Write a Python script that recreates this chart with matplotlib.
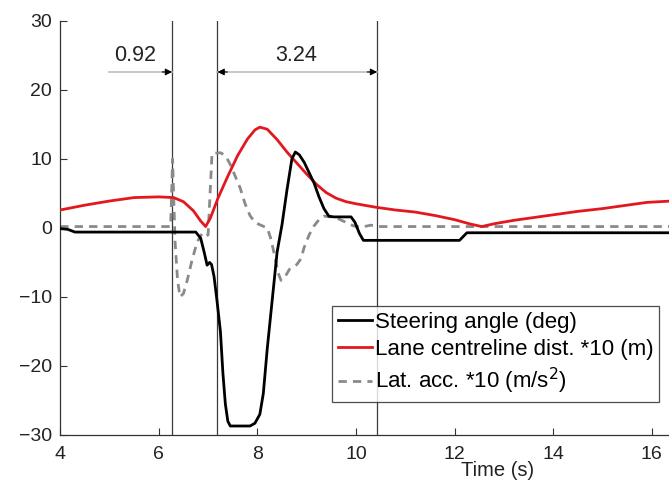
import numpy as np
import matplotlib
matplotlib.use("Agg")
import matplotlib.pyplot as plt

plt.rcParams["font.family"] = ["Liberation Sans", "DejaVu Sans"]

# ── data ──────────────────────────────────────────────────────────────────────
steer_t = [4.0, 4.15, 4.3, 6.75, 6.85, 6.92, 6.98, 7.03, 7.07, 7.12, 7.18, 7.25,
           7.3, 7.35, 7.4, 7.45, 7.85, 7.95, 8.05, 8.12, 8.2, 8.3, 8.4, 8.5, 8.6,
           8.7, 8.77, 8.85, 8.95, 9.05, 9.15, 9.25, 9.35, 9.45, 9.55, 9.9, 9.98,
           10.07, 10.15, 12.1, 12.25, 16.4]
steer_y = [-0.1, -0.2, -0.6, -0.6, -1.5, -3.5, -5.4, -5.0, -5.3, -7.0, -10.5, -15.0,
           -21.0, -25.5, -28.0, -28.7, -28.7, -28.3, -27.0, -24.0, -17.5, -10.5, -3.5,
           0.5, 5.5, 10.0, 11.0, 10.6, 9.5, 8.0, 6.5, 4.5, 2.8, 1.7, 1.6, 1.6, 0.8,
           -0.8, -1.8, -1.8, -0.7, -0.7]

lane_t = [4.0, 4.5, 5.0, 5.5, 6.0, 6.3, 6.5, 6.7, 6.85, 6.95, 7.05, 7.2, 7.4, 7.6,
          7.8, 7.95, 8.05, 8.2, 8.4, 8.6, 8.8, 9.0, 9.2, 9.4, 9.6, 9.8, 10.0, 10.4,
          10.8, 11.2, 11.6, 12.0, 12.3, 12.55, 12.8, 13.2, 13.6, 14.0, 14.5, 15.0,
          15.5, 15.9, 16.4]
lane_y = [2.6, 3.3, 3.9, 4.4, 4.5, 4.4, 3.8, 2.5, 1.0, 0.2, 1.5, 4.3, 7.5, 10.5,
          12.9, 14.2, 14.6, 14.3, 12.8, 11.0, 9.4, 7.8, 6.3, 5.1, 4.3, 3.8, 3.5, 3.0,
          2.6, 2.3, 1.8, 1.2, 0.6, 0.2, 0.6, 1.1, 1.5, 1.9, 2.4, 2.8, 3.3, 3.7, 3.9]

acc_t = [4.0, 6.24, 6.26, 6.28, 6.3, 6.33, 6.38, 6.43, 6.5, 6.58, 6.68, 6.78, 6.88,
         6.95, 7.0, 7.04, 7.08, 7.25, 7.35, 7.45, 7.55, 7.65, 7.75, 7.85, 7.95, 8.1,
         8.2, 8.27, 8.35, 8.42, 8.48, 8.55, 8.65, 8.8, 8.88, 8.95, 9.05, 9.15, 9.25,
         9.35, 9.5, 9.65, 9.8, 9.95, 10.1, 10.3, 10.5, 16.4]
acc_y = [0.2, 0.2, 5.0, 10.0, 5.0, -2.0, -7.5, -10.0, -9.5, -7.5, -4.5, -2.0, -0.8,
         -1.2, -1.0, 5.0, 10.8, 10.9, 10.5, 9.2, 7.5, 5.8, 3.5, 1.8, 0.8, 0.3, 0.0,
         -1.5, -4.0, -6.5, -7.6, -7.2, -6.0, -5.3, -4.5, -2.8, -1.0, 0.3, 1.2, 1.7,
         1.6, 1.3, 0.8, 0.3, 0.1, 0.4, 0.2, 0.2]

event_times = [6.27, 7.19, 10.43]
interval_labels = ["0.92", "3.24"]

labels = ["Steering angle (deg)", "Lane centreline dist. *10 (m)",
          "Lat. acc. *10 (m/s$^2$)"]

# ── plot ──────────────────────────────────────────────────────────────────────
fig = plt.figure(figsize=(6.69, 4.86), dpi=100)
ax = fig.add_axes([0.09, 0.105, 0.91, 0.852])

ax.plot(steer_t, steer_y, color="black", lw=2.0, label=labels[0], zorder=4)
ax.plot(lane_t, lane_y, color="#e3171e", lw=2.0, label=labels[1], zorder=3)
ax.plot(acc_t, acc_y, color="#8a8a8a", lw=2.0, ls=(0, (3, 2.2)), label=labels[2], zorder=2)

for t in event_times:
    ax.plot([t, t], [-30, 30], color="#3a3a3a", lw=0.9, zorder=1)

# interval arrows
arr_y = 22.6
ax.plot([event_times[0] - 1.29, event_times[0]], [arr_y, arr_y], color="#bdbdbd", lw=1.2)
ax.plot([event_times[1], event_times[2]], [arr_y, arr_y], color="#bdbdbd", lw=1.2)
head = dict(arrowstyle="-|>", color="black", lw=0.8, mutation_scale=10, shrinkA=0, shrinkB=0)
ax.annotate("", xy=(event_times[0], arr_y), xytext=(event_times[0] - 0.2, arr_y), arrowprops=head)
ax.annotate("", xy=(event_times[1], arr_y), xytext=(event_times[1] + 0.2, arr_y), arrowprops=head)
ax.annotate("", xy=(event_times[2], arr_y), xytext=(event_times[2] - 0.2, arr_y), arrowprops=head)
ax.text(5.52, 25.0, interval_labels[0], ha="center", va="center", fontsize=15.5, color="#222222")
ax.text(8.78, 25.0, interval_labels[1], ha="center", va="center", fontsize=15.5, color="#222222")

ax.set_xlim(4, 16.35)
ax.set_ylim(-30, 30)
ax.set_xticks(np.arange(4, 17, 2))
ax.set_yticks(np.arange(-30, 31, 10))
ax.tick_params(direction="in", length=5, width=0.8, labelsize=14, colors="#333333",
               labelcolor="#222222")
ax.tick_params(axis="x", pad=8)
ax.tick_params(axis="y", pad=6)
for s in ["top", "right"]:
    ax.spines[s].set_visible(False)
for s in ["left", "bottom"]:
    ax.spines[s].set_color("#333333")
    ax.spines[s].set_linewidth(0.9)
ax.set_xlabel("Time (s)", fontsize=14.5, color="#222222")
ax.xaxis.set_label_coords(0.718, -0.062)

leg = ax.legend(loc="lower left", bbox_to_anchor=(0.447, 0.08), fontsize=16,
                frameon=True, fancybox=False, handlelength=1.55, handletextpad=0.12,
                labelspacing=0.28, borderpad=0.25, borderaxespad=0)
leg.get_frame().set_edgecolor("#222222")
leg.get_frame().set_linewidth(0.9)

fig.savefig("out.png", dpi=100)
